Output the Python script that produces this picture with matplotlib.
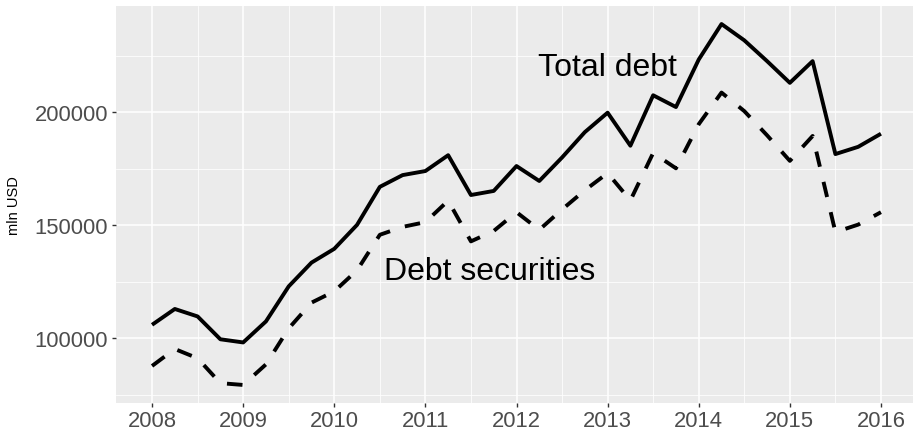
import matplotlib
matplotlib.use("Agg")
import matplotlib.pyplot as plt
import numpy as np

plt.rcParams['font.family'] = ['Liberation Sans', 'DejaVu Sans']

quarters = [2008.00, 2008.25, 2008.50, 2008.75,
            2009.00, 2009.25, 2009.50, 2009.75,
            2010.00, 2010.25, 2010.50, 2010.75,
            2011.00, 2011.25, 2011.50, 2011.75,
            2012.00, 2012.25, 2012.50, 2012.75,
            2013.00, 2013.25, 2013.50, 2013.75,
            2014.00, 2014.25, 2014.50, 2014.75,
            2015.00, 2015.25, 2015.50, 2015.75,
            2016.00]

total_debt = [106000, 113000, 109700, 99600,
              98200, 107500, 123000, 133500,
              139600, 150200, 167000, 172200,
              174000, 181000, 163400, 165200,
              176200, 169600, 180000, 191200,
              199800, 185200, 207500, 202300,
              223300, 239000, 231800, 222600,
              213000, 222600, 181500, 184700,
              190500]

debt_securities = [87800, 95300, 91200, 80200,
                   79400, 88500, 104400, 115800,
                   120800, 130100, 145800, 149300,
                   151400, 160900, 142900, 147500,
                   155800, 148000, 157000, 165500,
                   173100, 161000, 182000, 175200,
                   194700, 208700, 200500, 189800,
                   178500, 189500, 147000, 150300,
                   155800]

x_ticks = [2008, 2009, 2010, 2011, 2012, 2013, 2014, 2015, 2016]
y_ticks = [100000, 150000, 200000]
y_minor = [75000, 125000, 175000, 225000]
x_minor = [2008.5, 2009.5, 2010.5, 2011.5, 2012.5, 2013.5, 2014.5, 2015.5]

W, H = 913, 431
fig = plt.figure(figsize=(W / 100, H / 100), dpi=100)
left, right, top, bottom = 115.6, 917.4, 7, 404
ax = fig.add_axes([left / W, 1 - bottom / H, (right - left) / W, (bottom - top) / H])

ax.set_facecolor('#EBEBEB')
for s in ax.spines.values():
    s.set_visible(False)

xmin, xmax = min(quarters), max(quarters)
xr = xmax - xmin
ax.set_xlim(xmin - 0.05 * xr, xmax + 0.05 * xr)
ymin = min(min(total_debt), min(debt_securities))
ymax = max(max(total_debt), max(debt_securities))
yr = ymax - ymin
ax.set_ylim(ymin - 0.05 * yr, ymax + 0.05 * yr)

for v in x_minor:
    ax.axvline(v, color='white', lw=0.55, zorder=0.5)
for v in y_minor:
    ax.axhline(v, color='white', lw=0.55, zorder=0.5)
for v in x_ticks:
    ax.axvline(v, color='white', lw=1.1, zorder=0.6)
for v in y_ticks:
    ax.axhline(v, color='white', lw=1.1, zorder=0.6)

ax.plot(quarters, total_debt, color='black', lw=2.8, solid_capstyle='butt', zorder=2)
ax.plot(quarters, debt_securities, color='black', lw=2.8, dashes=(4, 4),
        dash_capstyle='butt', zorder=2)

ax.set_xticks(x_ticks)
ax.set_xticklabels([str(v) for v in x_ticks])
ax.set_yticks(y_ticks)
ax.set_yticklabels([str(v) for v in y_ticks])
ax.tick_params(axis='both', length=2.75, width=1.0, color='#333333',
               labelcolor='#4D4D4D', labelsize=15.8, pad=2.5)

ax.set_ylabel('mln USD', fontsize=10.5, color='black', labelpad=10)

ax.text(2013.0, 219800, 'Total debt', fontsize=23, ha='center', va='center', color='black')
ax.text(2011.71, 130000, 'Debt securities', fontsize=23, ha='center', va='center', color='black')

fig.savefig('out.png', dpi=100)
